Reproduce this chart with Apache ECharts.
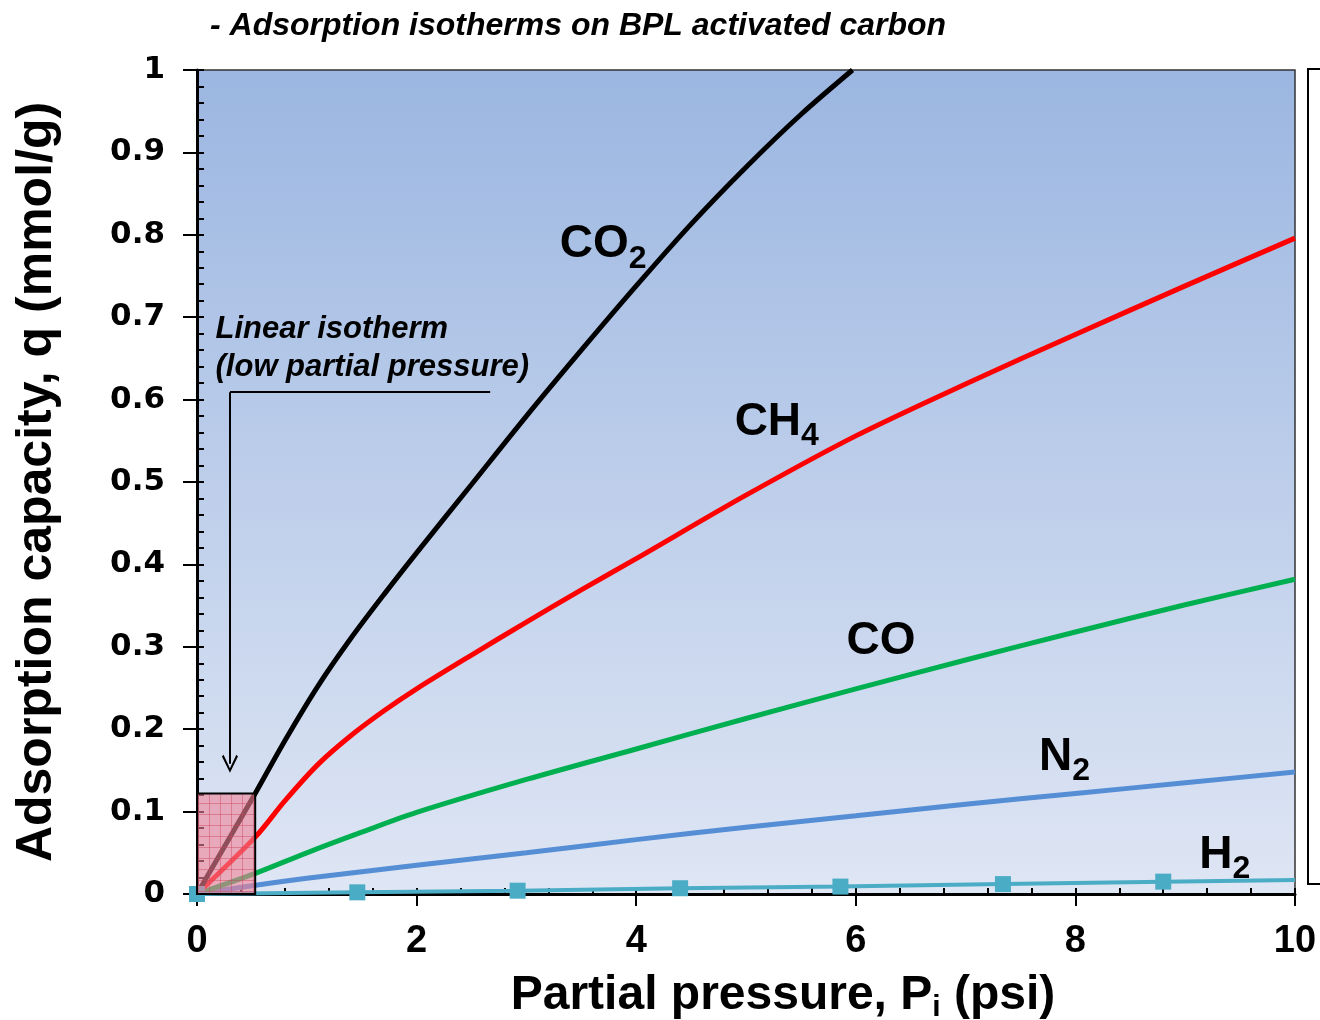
<!DOCTYPE html>
<html><head><meta charset="utf-8">
<script src="https://cdn.jsdelivr.net/npm/echarts@6/dist/echarts.min.js"></script>
<style>html,body{margin:0;padding:0;background:#fff}#c{width:1320px;height:1020px}</style>
</head><body><div id="c"></div>
<script>
// ---- data (partial pressure psi, capacity mmol/g) ----
const co2 = [[0,0],[0.53,0.122],[0.8,0.186],[1.1,0.252],[1.4,0.31],[1.7,0.363],[2.0,0.414],[2.5,0.497],[3.0,0.58],[3.5,0.66],[4.0,0.738],[4.5,0.813],[5.0,0.882],[5.5,0.946],[5.97,1.0]];
const ch4 = [[0,0],[0.53,0.069],[0.8,0.113],[1.1,0.157],[1.4,0.192],[1.7,0.222],[2.0,0.249],[2.5,0.29],[3.0,0.33],[3.5,0.369],[4.0,0.407],[5.0,0.484],[6.0,0.556],[7.0,0.619],[8.0,0.679],[9.0,0.738],[10,0.796]];
const co = [[0,0],[0.53,0.025],[1.0,0.05],[1.5,0.075],[2.0,0.099],[3.0,0.139],[4.0,0.176],[5.0,0.213],[6.0,0.249],[7.0,0.284],[8.0,0.318],[9.0,0.351],[10,0.382]];
const n2 = [[0,0],[0.55,0.011],[1.0,0.019],[2.0,0.035],[3.0,0.05],[4.0,0.066],[5.0,0.081],[6.0,0.095],[7.0,0.109],[8.0,0.122],[9.0,0.135],[10,0.148]];
const h2 = [[0,0],[1.46,0.002],[2.92,0.004],[4.4,0.007],[5.86,0.009],[7.34,0.012],[8.8,0.015],[10,0.017]];
const xTicks = [0,2,4,6,8,10];
const yTicks = [0,0.1,0.2,0.3,0.4,0.5,0.6,0.7,0.8,0.9,1];
const seriesNames = ['CO2','CH4','CO','N2','H2'];
const linearBox = [[0,0],[0.53,0.122]];

const chart = echarts.init(document.getElementById('c'), null, {renderer:'canvas'});

// hatched pink pattern for the linear-isotherm region
const pc = document.createElement('canvas'); pc.width = 11; pc.height = 11;
const g = pc.getContext('2d');
g.fillStyle = 'rgba(240,130,150,0.6)'; g.fillRect(0,0,11,11);
g.fillStyle = 'rgba(205,70,95,0.45)'; g.fillRect(0,0,11,1); g.fillRect(0,0,1,11);

const FONT = "'Liberation Sans', Arial, sans-serif";

const richLbl = {
  a: {fontSize: 46, fontWeight: 'bold', fontFamily: FONT, color: '#000', lineHeight: 50},
  b: {fontSize: 32, fontWeight: 'bold', fontFamily: FONT, color: '#000', lineHeight: 20, padding: [28,0,0,0]}
};
function lbl(coord, main, sub) {
  return {coord: coord, label: {show: true, position: 'inside', formatter: '{a|' + main + '}' + (sub ? '{b|' + sub + '}' : ''), rich: richLbl}};
}

function lineSeries(name, data, color, w) {
  return {name: name, type: 'line', data: data, smooth: 0.3, showSymbol: false, symbol: 'none',
    lineStyle: {color: color, width: w}, itemStyle: {color: color}, z: 3, clip: true};
}

const option = {
  animation: false,
  backgroundColor: '#fff',
  title: {text: '- Adsorption isotherms on BPL activated carbon', left: 205, top: 5,
    textStyle: {fontFamily: FONT, fontSize: 32, fontWeight: 'bold', fontStyle: 'italic', color: '#000'}},
  grid: {left: 197, right: 25, top: 70, bottom: 126, outerBoundsMode: 'none', containLabel: false,
    show: true, borderColor: '#333', borderWidth: 1.5,
    backgroundColor: new echarts.graphic.LinearGradient(0,0,0,1,[{offset:0,color:'#9bb6e1'},{offset:1,color:'#dfe6f4'}])},
  xAxis: [{
    type: 'value', min: 0, max: 10, interval: 2, position: 'bottom',
    axisLine: {show: true, onZero: false, lineStyle: {color: '#000', width: 3}},
    axisTick: {show: true, inside: false, length: 12, lineStyle: {color: '#000', width: 2}},
    minorTick: {show: false},
    splitLine: {show: false},
    axisLabel: {margin: 29, fontFamily: FONT, fontSize: 38, fontWeight: 'bold', color: '#000',
      formatter: v => xTicks.includes(v) ? String(v) : ''},
    name: 'Partial pressure, P{s|i} (psi)', nameLocation: 'middle', nameGap: 76,
    nameTextStyle: {fontFamily: FONT, fontSize: 48, fontWeight: 'bold', color: '#000', padding: [0,0,0,74], lineHeight: 52,
      rich: {s: {fontFamily: FONT, fontSize: 30, fontWeight: 'bold', color: '#000', lineHeight: 20, padding: [24,0,0,0]}}}
  }, {
    type: 'value', min: 0, max: 10, interval: 2, position: 'bottom',
    axisLine: {show: false, onZero: false}, axisLabel: {show: false}, splitLine: {show: false},
    axisTick: {show: true, inside: true, length: 6, lineStyle: {color: '#000', width: 2}},
    minorTick: {show: true, splitNumber: 5, length: 6, lineStyle: {color: '#000', width: 2}}
  }],
  yAxis: [{
    type: 'value', min: 0, max: 1, interval: 0.1, position: 'left',
    axisLine: {show: true, onZero: false, lineStyle: {color: '#000', width: 3}},
    axisTick: {show: true, inside: false, length: 14, lineStyle: {color: '#000', width: 2}},
    splitLine: {show: false},
    axisLabel: {margin: 32, fontFamily: "'DejaVu Sans', sans-serif", fontSize: 31, fontWeight: 'bold', color: '#000',
      formatter: v => { const t = yTicks.find(k => Math.abs(k - v) < 1e-9); return t === undefined ? '' : String(t); }},
    name: 'Adsorption capacity, q (mmol/g)', nameLocation: 'middle', nameGap: 135, nameRotate: 90,
    nameTextStyle: {fontFamily: FONT, fontSize: 50, fontWeight: 'bold', color: '#000'}
  }, {
    type: 'value', min: 0, max: 1, interval: 0.1, position: 'left',
    axisLine: {show: false, onZero: false}, axisLabel: {show: false}, splitLine: {show: false},
    axisTick: {show: true, inside: true, length: 7, lineStyle: {color: '#000', width: 2}},
    minorTick: {show: true, splitNumber: 5, length: 7, lineStyle: {color: '#000', width: 2}}
  }],
  series: [
    lineSeries(seriesNames[3], n2, '#558ed5', 5),
    lineSeries(seriesNames[2], co, '#00b050', 5),
    lineSeries(seriesNames[1], ch4, '#ff0000', 5),
    lineSeries(seriesNames[0], co2, '#000000', 5),
    {name: seriesNames[4], type: 'line', data: h2.map((d, i) => i === h2.length - 1 ? {value: d, symbol: 'none'} : {value: d}),
      symbol: 'rect', symbolSize: 16, showSymbol: true, clip: false, z: 4,
      lineStyle: {color: '#4bacc6', width: 4}, itemStyle: {color: '#4bacc6'}},
    {name: 'annot', type: 'line', data: [], z: 10,
      markArea: {silent: true, z: 10,
        itemStyle: {color: {image: pc, repeat: 'repeat'}, borderColor: '#000', borderWidth: 2},
        data: [[{coord: linearBox[0]}, {coord: linearBox[1]}]]},
      markLine: {silent: true, z: 11, symbol: ['none', 'none'], label: {show: false},
        lineStyle: {color: '#000', width: 2, type: 'solid'},
        data: [
          [{coord: [0.3, 0.609], symbol: 'none'}, {coord: [2.67, 0.609], symbol: 'none'}],
          [{coord: [0.3, 0.609], symbol: 'none'}, {coord: [0.3, 0.158], symbol: 'path://M5,0 L10,9 L9,10 L5,2.5 L1,10 L0,9 Z', symbolSize: [16, 18]}]
        ]},
      markPoint: {silent: true, z: 12, symbol: 'circle', symbolSize: 1, itemStyle: {color: 'rgba(0,0,0,0)'},
        data: [
          lbl([3.70, 0.788], 'CO', '2'),
          lbl([5.28, 0.573], 'CH', '4'),
          lbl([6.23, 0.307], 'CO', ''),
          lbl([7.90, 0.166], 'N', '2'),
          lbl([9.36, 0.047], 'H', '2'),
          {coord: [0.164, 0.662], label: {show: true, position: 'right', distance: 0,
            formatter: 'Linear isotherm\n(low partial pressure)', fontFamily: FONT, fontSize: 31,
            fontWeight: 'bold', fontStyle: 'italic', color: '#000', lineHeight: 38, align: 'left'}}
        ]}
    }
  ],
  graphic: [
    {type: 'rect', left: 1307, top: 68, shape: {x: 0, y: 0, width: 40, height: 815},
      style: {fill: '#fff', stroke: '#000', lineWidth: 2}, z: 1}
  ]
};
chart.setOption(option);
</script>
</body></html>
